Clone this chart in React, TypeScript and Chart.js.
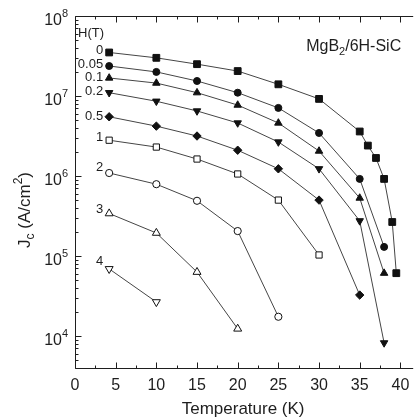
import React, { useEffect, useRef } from 'react';
import { Chart, registerables } from 'chart.js';

Chart.register(...registerables);

const FONT = '"Liberation Sans", Arial, Helvetica, sans-serif';
const INK = '#1e1e1e';

// ---- data ----
const fieldLabels = ['0', '0.05', '0.1', '0.2', '0.5', '1', '2', '3', '4'];

const tempsH0 = [4.2, 10, 15, 20, 25, 30, 35, 36, 37, 38, 39, 39.5];
const jcH0 = [3.5e7, 3.0e7, 2.5e7, 2.05e7, 1.4e7, 9.2e6, 3.6e6, 2.4e6, 1.68e6, 9.2e5, 2.66e5, 6.1e4];

const tempsH005 = [4.2, 10, 15, 20, 25, 30, 35, 38];
const jcH005 = [2.37e7, 2.0e7, 1.54e7, 1.1e7, 7.1e6, 3.45e6, 9.2e5, 1.3e5];

const tempsH01 = [4.2, 10, 15, 20, 25, 30, 35, 38];
const jcH01 = [1.68e7, 1.45e7, 1.1e7, 7.7e6, 4.6e6, 2.05e6, 5.3e5, 6.1e4];

const tempsH02 = [4.2, 10, 15, 20, 25, 30, 35, 38];
const jcH02 = [1.1e7, 8.6e6, 6.5e6, 4.6e6, 2.66e6, 1.23e6, 2.75e5, 8.2e3];

const tempsH05 = [4.2, 10, 15, 20, 25, 30, 35];
const jcH05 = [5.5e6, 4.2e6, 3.16e6, 2.1e6, 1.23e6, 5.0e5, 3.25e4];

const tempsH1 = [4.2, 10, 15, 20, 25, 30];
const jcH1 = [2.8e6, 2.3e6, 1.63e6, 1.06e6, 5.0e5, 1.03e5];

const tempsH2 = [4.2, 10, 15, 20, 25];
const jcH2 = [1.09e6, 7.9e5, 4.9e5, 2.05e5, 1.74e4];

const tempsH3 = [4.2, 10, 15, 20];
const jcH3 = [3.4e5, 1.94e5, 6.3e4, 1.23e4];

const tempsH4 = [4.2, 10];
const jcH4 = [6.9e4, 2.66e4];

const xTickValues = [0, 5, 10, 15, 20, 25, 30, 35, 40];
const yTickExponents = [4, 5, 6, 7, 8];

// ---- styles (not data) ----
const seriesTemps = [tempsH0, tempsH005, tempsH01, tempsH02, tempsH05, tempsH1, tempsH2, tempsH3, tempsH4];
const seriesValues = [jcH0, jcH005, jcH01, jcH02, jcH05, jcH1, jcH2, jcH3, jcH4];
const markerStyles = [
  { style: 'rect', rot: 0, r: 4.8, filled: true },
  { style: 'circle', rot: 0, r: 3.5, filled: true },
  { style: 'triangle', rot: 0, r: 4.3, filled: true },
  { style: 'triangle', rot: 180, r: 4.3, filled: true },
  { style: 'rectRot', rot: 0, r: 4.2, filled: true },
  { style: 'rect', rot: 0, r: 4.4, filled: false },
  { style: 'circle', rot: 0, r: 3.6, filled: false },
  { style: 'triangle', rot: 0, r: 4.6, filled: false },
  { style: 'triangle', rot: 180, r: 4.6, filled: false },
];
const labelDy = [-2, -2, -1, -1, 0, -3, -6, -4, -7];

function drawParts(ctx: CanvasRenderingContext2D, parts: { t: string; size: number; dy: number }[], x: number, y: number, align: 'left' | 'center') {
  let total = 0;
  for (const p of parts) {
    ctx.font = `${p.size}px ${FONT}`;
    total += ctx.measureText(p.t).width;
  }
  let cx = align === 'center' ? x - total / 2 : x;
  ctx.textAlign = 'left';
  ctx.textBaseline = 'alphabetic';
  for (const p of parts) {
    ctx.font = `${p.size}px ${FONT}`;
    ctx.fillText(p.t, cx, y + p.dy);
    cx += ctx.measureText(p.t).width;
  }
}

const framePlugin = {
  id: 'frame',
  beforeDatasetsDraw(chart: any) {
    const { ctx, chartArea: a, scales } = chart;
    const xs = scales.x;
    const ys = scales.y;
    ctx.save();
    ctx.strokeStyle = INK;
    ctx.lineWidth = 1;
    ctx.beginPath();
    const L = Math.round(a.left) + 0.5;
    const T = Math.round(a.top) + 0.5;
    const B = Math.round(a.bottom) + 0.5;
    ctx.moveTo(a.right + 2, T);
    ctx.lineTo(L, T);
    ctx.lineTo(L, B);
    ctx.lineTo(a.right + 2, B);
    for (let v = 0; v <= xs.max + 1e-9; v += 2.5) {
      const px = Math.round(xs.getPixelForValue(v)) + 0.5;
      const len = Math.abs(v % 5) < 1e-9 ? 6 : 3;
      ctx.moveTo(px, B);
      ctx.lineTo(px, B - len);
      ctx.moveTo(px, T);
      ctx.lineTo(px, T + len);
    }
    for (let d = 3; d <= 8; d++) {
      for (let m = 1; m <= 9; m++) {
        const v = m * Math.pow(10, d);
        if (v < ys.min - 1e-6 || v > ys.max + 1e-6) continue;
        const py = Math.round(ys.getPixelForValue(v)) + 0.5;
        const len = m === 1 ? 6 : 3;
        ctx.moveTo(L, py);
        ctx.lineTo(L + len, py);
      }
    }
    ctx.stroke();
    ctx.restore();
  },
  afterDraw(chart: any) {
    const { ctx, chartArea: a, scales } = chart;
    const xs = scales.x;
    const ys = scales.y;
    ctx.save();
    ctx.fillStyle = INK;

    // x tick labels
    ctx.font = `16px ${FONT}`;
    ctx.textAlign = 'center';
    ctx.textBaseline = 'alphabetic';
    for (const v of xTickValues) {
      ctx.fillText(String(v), xs.getPixelForValue(v), a.bottom + 22);
    }

    // y tick labels 10^n
    for (const e of yTickExponents) {
      const py = ys.getPixelForValue(Math.pow(10, e));
      ctx.font = `16px ${FONT}`;
      ctx.textAlign = 'right';
      ctx.textBaseline = 'alphabetic';
      ctx.fillText('10', a.left - 13, py + 9);
      ctx.font = `11px ${FONT}`;
      ctx.textAlign = 'left';
      ctx.fillText(String(e), a.left - 13, py + 1);
    }

    // x axis title
    ctx.font = `17px ${FONT}`;
    ctx.textAlign = 'center';
    ctx.fillText('Temperature (K)', (a.left + a.right) / 2, a.bottom + 46);

    // y axis title
    ctx.save();
    ctx.translate(30, 210);
    ctx.rotate(-Math.PI / 2);
    drawParts(ctx, [
      { t: 'J', size: 17, dy: 0 },
      { t: 'c', size: 12, dy: 4 },
      { t: ' (A/cm', size: 17, dy: 0 },
      { t: '2', size: 12, dy: -8 },
      { t: ')', size: 17, dy: 0 },
    ], 0, 0, 'center');
    ctx.restore();

    // sample label
    drawParts(ctx, [
      { t: 'MgB', size: 16, dy: 0 },
      { t: '2', size: 11, dy: 4 },
      { t: '/6H-SiC', size: 16, dy: 0 },
    ], a.right - 105, a.top + 35, 'left');

    // field header
    ctx.font = `13px ${FONT}`;
    ctx.textAlign = 'left';
    ctx.textBaseline = 'alphabetic';
    ctx.fillText('H(T)', a.left + 3, a.top + 21);

    // field labels at the first point of each curve
    ctx.textAlign = 'right';
    ctx.textBaseline = 'middle';
    fieldLabels.forEach((lab, i) => {
      const px = xs.getPixelForValue(seriesTemps[i][0]) - 6;
      const py = ys.getPixelForValue(seriesValues[i][0]) + labelDy[i];
      ctx.fillText(lab, px, py);
    });
    ctx.restore();
  },
};

export default function App() {
  const ref = useRef<HTMLCanvasElement | null>(null);
  useEffect(() => {
    if (!ref.current) return;
    const datasets = fieldLabels.map((lab, i) => {
      const m = markerStyles[i];
      return {
        label: lab,
        data: seriesTemps[i].map((t, j) => ({ x: t, y: seriesValues[i][j] })),
        borderColor: '#454545',
        borderWidth: 1,
        pointStyle: m.style,
        pointRotation: m.rot,
        pointRadius: m.r,
        pointBackgroundColor: m.filled ? '#111' : '#fff',
        pointBorderColor: '#111',
        pointBorderWidth: 1,
        fill: false,
        tension: 0,
        clip: false,
      };
    });
    const chart = new Chart(ref.current, {
      type: 'line',
      data: { datasets } as any,
      options: {
        responsive: false,
        animation: false,
        devicePixelRatio: 1,
        events: [],
        layout: { padding: { left: 75, top: 16, right: 0, bottom: 50 } },
        plugins: { legend: { display: false }, tooltip: { enabled: false } },
        scales: {
          x: { type: 'linear', min: 0, max: 41.33, display: false },
          y: { type: 'logarithmic', min: 3981, max: 1e8, display: false },
        },
      } as any,
      plugins: [framePlugin as any],
    });
    return () => chart.destroy();
  }, []);
  return (
    <div style={{ position: 'fixed', left: 0, top: 0, width: 417, height: 418, background: '#fff' }}>
      <canvas ref={ref} width={417} height={418} style={{ width: 417, height: 418, display: 'block' }} />
    </div>
  );
}
